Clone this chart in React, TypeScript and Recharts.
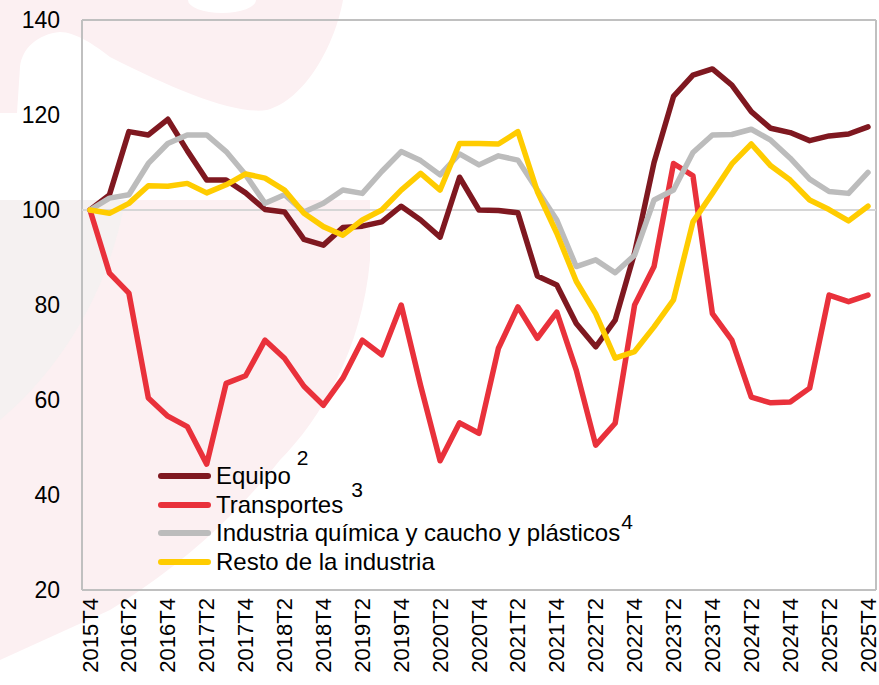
import { LineChart, Line, XAxis, YAxis, CartesianGrid, ReferenceLine, Legend } from 'recharts';

const quarters = [
  '2015T4',
  '2016T1', '2016T2', '2016T3', '2016T4',
  '2017T1', '2017T2', '2017T3', '2017T4',
  '2018T1', '2018T2', '2018T3', '2018T4',
  '2019T1', '2019T2', '2019T3', '2019T4',
  '2020T1', '2020T2', '2020T3', '2020T4',
  '2021T1', '2021T2', '2021T3', '2021T4',
  '2022T1', '2022T2', '2022T3', '2022T4',
  '2023T1', '2023T2', '2023T3', '2023T4',
  '2024T1', '2024T2', '2024T3', '2024T4',
  '2025T1', '2025T2', '2025T3', '2025T4',
];

const equipo = [
  100, 103.2, 116.5, 115.8, 119.1, 112.5, 106.3, 106.3, 103.6, 100.1,
  99.6, 93.8, 92.6, 96.3, 96.6, 97.5, 100.8, 97.9, 94.3, 106.9,
  100, 99.9, 99.4, 86.1, 84.2, 76.1, 71.2, 76.8, 91, 110,
  123.9, 128.4, 129.7, 126.3, 120.7, 117.2, 116.3, 114.6, 115.6, 116, 117.5,
];

const transportes = [
  100, 86.7, 82.5, 60.4, 56.6, 54.4, 46.5, 63.5, 65.1, 72.6,
  68.8, 62.9, 58.9, 64.6, 72.6, 69.5, 80, 63, 47.2, 55.2,
  53, 70.9, 79.6, 73, 78.5, 66.3, 50.5, 55.1, 80, 88.1,
  109.8, 107.2, 78.2, 72.6, 60.6, 59.4, 59.6, 62.5, 82.1, 80.7, 82.1,
];

const quimica = [
  100, 102.5, 103.2, 109.8, 114, 115.8, 115.8, 112.3, 107.4, 101.4,
  103.2, 99.6, 101.4, 104.2, 103.5, 108.1, 112.3, 110.4, 107.4, 111.8,
  109.5, 111.4, 110.5, 104.2, 97.9, 88.1, 89.5, 86.8, 90.5, 102.1,
  104.2, 112.1, 115.8, 115.9, 117, 114.7, 110.9, 106.5, 103.9, 103.5, 107.9,
];

const resto = [
  100, 99.3, 101.4, 105.1, 105, 105.6, 103.6, 105.3, 107.6, 106.7,
  104.2, 99.3, 96.5, 94.7, 97.9, 100, 104.2, 107.7, 104.2, 114,
  114, 113.9, 116.5, 103.9, 95.1, 85, 78.2, 68.8, 70.2, 75.4,
  81.1, 97.5, 103.5, 109.7, 113.9, 109.3, 106.3, 102.1, 100.1, 97.7, 100.8,
];

const yTicks = [20, 40, 60, 80, 100, 120, 140];

const FONT = '"Liberation Sans", Arial, sans-serif';

// legend text, footnote marks and colours
const series = [
  { key: 'equipo', name: 'Equipo', sup: '2', gap: 6, raise: -18, color: '#7f1820' },
  { key: 'transportes', name: 'Transportes', sup: '3', gap: 8, raise: -15, color: '#e9313b' },
  { key: 'quimica', name: 'Industria química y caucho y plásticos', sup: '4', gap: 1, raise: -11, color: '#bcbcbc' },
  { key: 'resto', name: 'Resto de la industria', sup: '', gap: 0, raise: 0, color: '#ffcc00' },
];

const data = quarters.map((q, i) => ({
  q,
  equipo: equipo[i],
  transportes: transportes[i],
  quimica: quimica[i],
  resto: resto[i],
}));

function QuarterTick({ x, y, payload }: any) {
  return (
    <text
      x={x}
      y={y}
      transform={`rotate(-90 ${x} ${y})`}
      textAnchor="end"
      dominantBaseline="central"
      fontSize={22}
      fontFamily={FONT}
      fill="#000"
    >
      {payload.value}
    </text>
  );
}

// keep the legend in series order (Recharts sorts the payload by name)
function SeriesLegend() {
  return (
    <div style={{ fontFamily: FONT, fontSize: 24, color: '#000' }}>
      {series.map((s) => (
        <div key={s.key} style={{ display: 'flex', alignItems: 'center', height: 28.5, whiteSpace: 'nowrap' }}>
          <span
            style={{
              display: 'inline-block',
              width: 53,
              height: 6,
              borderRadius: 3,
              background: s.color,
              marginRight: 5,
            }}
          />
          <span>{s.name}</span>
          {s.sup ? (
            <span style={{ fontSize: 21, position: 'relative', top: s.raise, marginLeft: s.gap }}>{s.sup}</span>
          ) : null}
        </div>
      ))}
    </div>
  );
}

function Watermark() {
  return (
    <svg width={879} height={685} style={{ position: 'absolute', left: 0, top: 0 }}>
      <path
        d="M0,0 L343,0 C335,45 305,100 267,110 C235,115 175,90 110,57 C95,45 75,32 60,32 C38,34 22,48 20,67 L17,113 L0,113 Z"
        fill="#fcf0f2"
      />
      <ellipse cx={222} cy={0} rx={34} ry={13} fill="#ffffff" />
      <path
        d="M0,200 L370,200 L370,260 C362,350 320,420 280,460 C240,510 190,560 110,610 L0,660 Z"
        fill="#fcf0f2"
      />
      <path d="M0,200 L125,200 C110,290 60,370 0,420 Z" fill="#f5f1f1" />
    </svg>
  );
}

export default function App() {
  return (
    <div style={{ position: 'absolute', left: 0, top: 0, width: 879, height: 685, background: '#fff' }}>
      <Watermark />
      <div style={{ position: 'absolute', left: 0, top: 0 }}>
        <LineChart width={879} height={685} data={data} margin={{ top: 20, right: 3, bottom: 0, left: 0 }}>
          <CartesianGrid
            stroke="#c0c0c0"
            strokeWidth={2}
            horizontalCoordinatesGenerator={({ offset }: any) => [offset.top, offset.top + offset.height]}
            verticalCoordinatesGenerator={({ offset }: any) => [offset.left, offset.left + offset.width]}
          />
          <ReferenceLine y={100} stroke="#d6d6d6" strokeWidth={2} />
          <XAxis
            dataKey="q"
            interval={1}
            height={95}
            padding={{ left: 8, right: 8 }}
            axisLine={false}
            tickLine={false}
            tickSize={0}
            tickMargin={8}
            tick={<QuarterTick />}
          />
          <YAxis
            domain={[20, 140]}
            ticks={yTicks}
            width={82}
            axisLine={false}
            tickLine={false}
            tickSize={0}
            tickMargin={22}
            tick={{ fill: '#000', fontSize: 23, fontFamily: FONT }}
          />
          <Legend
            layout="vertical"
            align="center"
            verticalAlign="middle"
            wrapperStyle={{ left: 158, top: 462, width: 520, height: 'auto' }}
            content={<SeriesLegend />}
          />
          {series.map((s) => (
            <Line
              key={s.key}
              type="linear"
              dataKey={s.key}
              name={s.name}
              stroke={s.color}
              strokeWidth={5.5}
              strokeLinecap="round"
              strokeLinejoin="round"
              dot={false}
              activeDot={false}
              isAnimationActive={false}
            />
          ))}
        </LineChart>
      </div>
    </div>
  );
}
